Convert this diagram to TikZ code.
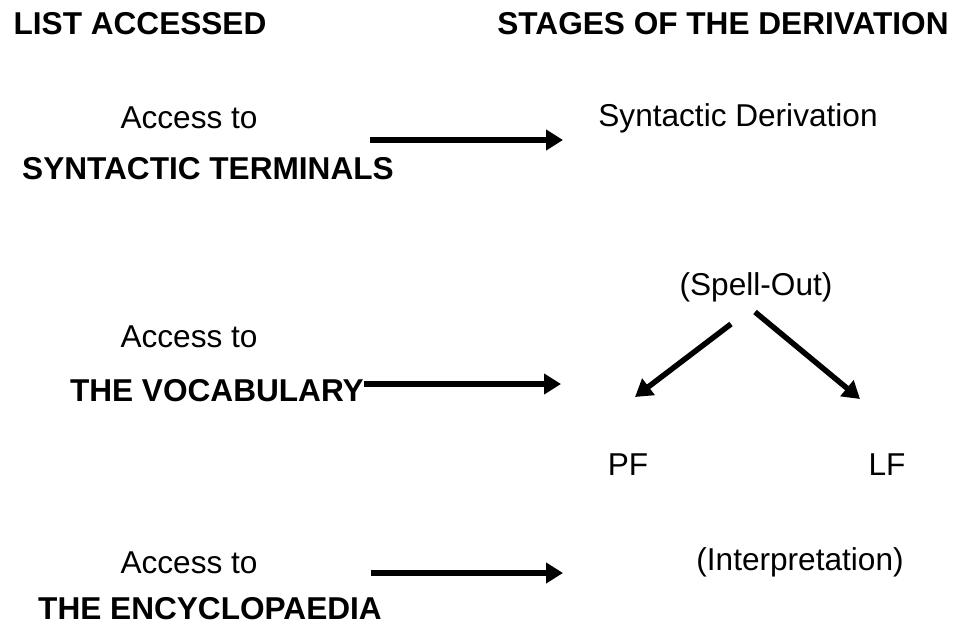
\documentclass[tikz,border=0pt]{standalone}
\usepackage{fontspec}
\setmainfont{Liberation Sans}
\usetikzlibrary{arrows.meta, positioning}
\tikzstyle{label} = [inner sep=0pt, font=\fontsize{31.6}{36}\selectfont]
\tikzstyle{head} = [label, font=\fontsize{31.6}{36}\selectfont\bfseries]
\tikzstyle{arrow} = [line width=5.5pt, -{Triangle[length=17pt,width=20pt]}]

\begin{document}
\begin{tikzpicture}[x=1pt, y=-1pt]
\useasboundingbox (0,0) rectangle (963,626);
% Column headings
\node[head] (listhead) at (140,24) {LIST ACCESSED};
\node[head] (stagehead) at (723,24) {STAGES OF THE DERIVATION};

% Syntactic terminals
\node[label] (access1) at (189,118) {Access to};
\node[head] (terminals) at (208,169) {SYNTACTIC TERMINALS};
\node[label] (derivation) at (738,118) {Syntactic Derivation};
\coordinate (a1) at (370,140);
\coordinate (b1) at (563,140);
\draw[arrow] (a1) -- (b1);

% Vocabulary
\node[label] (spellout) at (756,287) {(Spell-Out)};
\node[label] (access2) at (189,337) {Access to};
\node[head, anchor=east] (vocabulary) at (364,391) {THE VOCABULARY};
\node[label] (pf) at (628,465) {PF};
\node[label] (lf) at (887,465) {LF};
\coordinate (b2) at (561,384);
\draw[arrow] (vocabulary.east |- b2) -- (b2);
\coordinate (s1) at (731,324);
\coordinate (s2) at (755,312);
\draw[arrow] (s1) -- (635,397);
\draw[arrow] (s2) -- (860,399);

% Encyclopaedia
\node[label] (access3) at (189,563) {Access to};
\node[head] (encyclopaedia) at (210,609) {THE ENCYCLOPAEDIA};
\node[label] (interpretation) at (800,562) {(Interpretation)};
\coordinate (a3) at (371,573);
\coordinate (b3) at (563,573);
\draw[arrow] (a3) -- (b3);
\end{tikzpicture}
\end{document}
